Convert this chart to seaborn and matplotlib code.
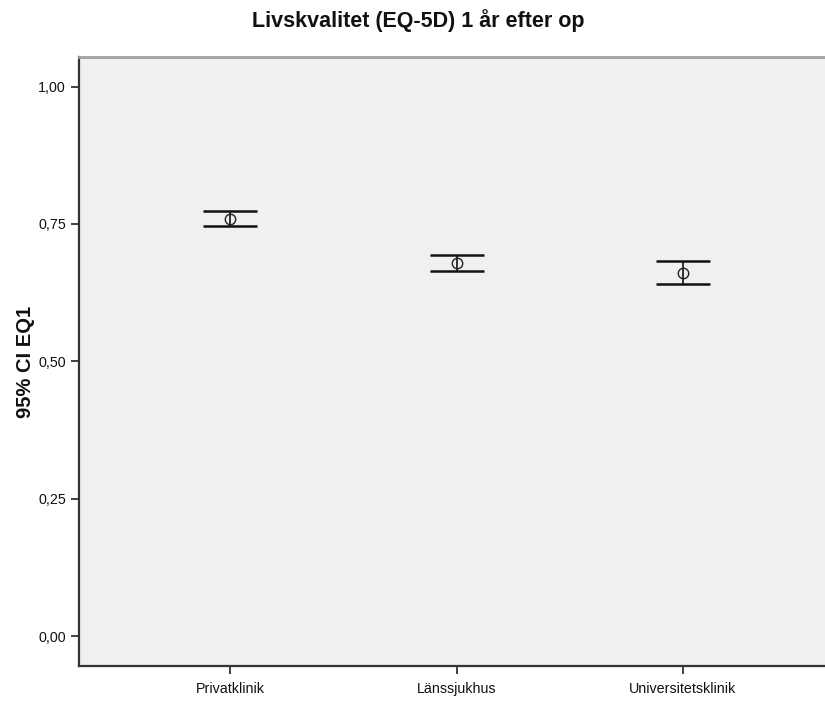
import matplotlib
matplotlib.use("Agg")
import matplotlib.pyplot as plt
import seaborn as sns
import pandas as pd
from matplotlib.ticker import FuncFormatter

categories = ["Privatklinik", "Länssjukhus", "Universitetsklinik"]
means = [0.759, 0.679, 0.660]
ci_low = [0.747, 0.665, 0.640]
ci_high = [0.774, 0.693, 0.683]
y_ticks = [0.00, 0.25, 0.50, 0.75, 1.00]

sns.set_theme(style="white")
plt.rcParams["font.family"] = ["Liberation Sans", "DejaVu Sans"]

df = pd.DataFrame({"Klinik": categories, "EQ1": means})

fig = plt.figure(figsize=(8.25, 7.02), dpi=100)
ax = fig.add_axes([79 / 825, 1 - 666 / 702, 755 / 825, (666 - 57) / 702])
ax.set_facecolor("#f0f0f0")

sns.pointplot(data=df, x="Klinik", y="EQ1", order=categories, errorbar=None,
              linestyle="none", marker="o", markersize=7.5,
              markerfacecolor="none", markeredgecolor="#222222",
              markeredgewidth=1.0, color="#222222", ax=ax, zorder=3)

xpos = range(len(categories))
lower = [m - lo for m, lo in zip(means, ci_low)]
upper = [hi - m for m, hi in zip(means, ci_high)]
ax.errorbar(list(xpos), means, yerr=[lower, upper], fmt="none",
            ecolor="#111111", elinewidth=1.2, capsize=19.5, capthick=1.8,
            zorder=2)

ax.set_xlim(-0.667, 2.667)
ax.set_ylim(-0.0546, 1.054)
ax.set_yticks(y_ticks)
ax.yaxis.set_major_formatter(FuncFormatter(lambda v, p: f"{v:.2f}".replace(".", ",")))

ax.set_xlabel("")
ax.set_ylabel("95% CI EQ1", fontsize=14.5, fontweight="bold", color="#111111")
ax.yaxis.set_label_coords(-0.058, 0.5)
ax.tick_params(axis="both", which="major", direction="out", length=6,
               width=1.3, color="#333333", labelsize=10.3, labelcolor="#111111",
               left=True, bottom=True)
ax.tick_params(axis="y", pad=3.5)
ax.tick_params(axis="x", pad=5.5)

for side in ["left", "bottom"]:
    ax.spines[side].set_color("#333333")
    ax.spines[side].set_linewidth(1.6)
ax.spines["top"].set_color("#a0a0a0")
ax.spines["top"].set_linewidth(2.0)
ax.spines["right"].set_visible(False)

fig.text(418 / 825, 1 - 21 / 702, "Livskvalitet (EQ-5D) 1 år efter op",
         ha="center", va="center", fontsize=15.5, fontweight="bold",
         color="#111111")

fig.savefig("out.png", dpi=100, facecolor="white")
